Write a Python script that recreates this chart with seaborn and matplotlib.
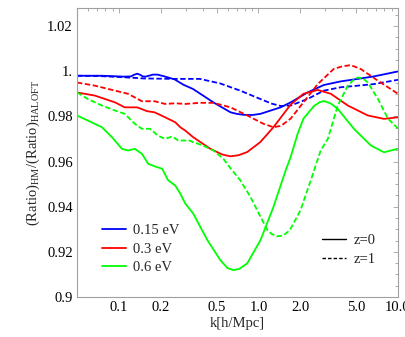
import matplotlib
matplotlib.use("Agg")
import matplotlib.pyplot as plt
import matplotlib.ticker as mticker
from matplotlib.lines import Line2D
import seaborn as sns

# 0.15 eV
k_015_z0 = [0.05, 0.075, 0.1, 0.109, 0.122, 0.128, 0.135, 0.142, 0.148, 0.155, 0.162, 0.175, 0.188, 0.2, 0.212, 0.25, 0.29, 0.34, 0.475, 0.63, 0.70, 0.78, 0.9, 1.03, 1.44, 1.70, 2.25, 2.94, 3.89, 5.15, 6.72, 10.0]
r_015_z0 = [0.998, 0.998, 0.9977, 0.9976, 0.9977, 0.9984, 0.9989, 0.9984, 0.9977, 0.9976, 0.9979, 0.9985, 0.9985, 0.9981, 0.9977, 0.9964, 0.994, 0.9921, 0.9862, 0.9818, 0.9811, 0.9807, 0.9806, 0.9811, 0.984, 0.9862, 0.9906, 0.9939, 0.9955, 0.9966, 0.9977, 0.9999]
k_015_z1 = [0.05, 0.075, 0.11, 0.15, 0.25, 0.38, 0.53, 0.74, 1.03, 1.25, 1.44, 1.70, 2.25, 2.94, 3.89, 5.15, 6.72, 10.0]
r_015_z1 = [0.998, 0.9978, 0.9973, 0.9968, 0.9966, 0.9966, 0.9946, 0.9914, 0.9877, 0.9856, 0.9846, 0.9848, 0.9877, 0.9914, 0.9929, 0.9936, 0.9943, 0.9962]

# 0.3 eV
k_03_z0 = [0.05, 0.0672, 0.0936, 0.11, 0.135, 0.159, 0.18, 0.214, 0.253, 0.275, 0.2985, 0.34, 0.45, 0.55, 0.63, 0.72, 0.83, 1.03, 1.28, 1.70, 2.1, 2.66, 3.3, 4.37, 6.08, 7.93, 10.0]
r_03_z0 = [0.9906, 0.9892, 0.9862, 0.984, 0.984, 0.9823, 0.9818, 0.9796, 0.9774, 0.9752, 0.9737, 0.9708, 0.9657, 0.9631, 0.9623, 0.9628, 0.9642, 0.9686, 0.9752, 0.9852, 0.990, 0.9917, 0.990, 0.9848, 0.9804, 0.9789, 0.9796]
k_03_z1 = [0.05, 0.0672, 0.0936, 0.116, 0.146, 0.18, 0.214, 0.253, 0.2985, 0.38, 0.475, 0.63, 0.83, 1.086, 1.28, 1.45, 1.70, 2.1, 2.66, 3.46, 4.0, 4.59, 5.4, 7.18, 10.0]
r_03_z1 = [0.995, 0.9936, 0.9914, 0.990, 0.9867, 0.9867, 0.9855, 0.9858, 0.9855, 0.986, 0.986, 0.984, 0.9804, 0.9767, 0.9752, 0.9758, 0.979, 0.9862, 0.9943, 1.001, 1.0022, 1.0027, 1.001, 0.9958, 0.990]

# 0.6 eV
k_06_z0 = [0.05, 0.06, 0.0754, 0.089, 0.105, 0.116, 0.13, 0.146, 0.162, 0.182, 0.204, 0.225, 0.253, 0.275, 0.2985, 0.34, 0.43, 0.533, 0.60, 0.66, 0.73, 0.83, 1.034, 1.28, 1.564, 1.70, 1.91, 2.1, 2.49, 2.75, 2.94, 3.3, 3.7, 4.83, 6.39, 7.93, 10.0]
r_06_z0 = [0.9804, 0.9781, 0.9752, 0.9708, 0.9656, 0.9649, 0.9656, 0.9634, 0.959, 0.9578, 0.9568, 0.9517, 0.9494, 0.9458, 0.9414, 0.937, 0.9252, 0.9163, 0.9128, 0.9119, 0.9125, 0.9149, 0.9252, 0.9399, 0.956, 0.962, 0.9724, 0.979, 0.9845, 0.9863, 0.9868, 0.9857, 0.9833, 0.9745, 0.9671, 0.9641, 0.9657]
k_06_z1 = [0.05, 0.0598, 0.0754, 0.0936, 0.11, 0.13, 0.146, 0.167, 0.19, 0.214, 0.24, 0.266, 0.30, 0.31, 0.34, 0.40, 0.475, 0.56, 0.63, 0.74, 0.876, 1.034, 1.16, 1.25, 1.37, 1.5, 1.62, 1.70, 2.0, 2.37, 2.79, 3.14, 3.70, 4.37, 4.8, 5.15, 5.6, 6.08, 7.18, 8.47, 10.0]
r_06_z1 = [0.9906, 0.9877, 0.9848, 0.9826, 0.9811, 0.9767, 0.9745, 0.9745, 0.9715, 0.970, 0.9711, 0.9693, 0.9693, 0.9696, 0.9686, 0.9671, 0.9649, 0.9612, 0.957, 0.9517, 0.9443, 0.9355, 0.9296, 0.9278, 0.9269, 0.9272, 0.9288, 0.9303, 0.9384, 0.9517, 0.9649, 0.970, 0.9848, 0.9936, 0.9962, 0.9972, 0.9968, 0.995, 0.9877, 0.979, 0.9746]

mass_labels = ["0.15 eV", "0.3 eV", "0.6 eV"]
mass_colors = ["#0000ff", "#ff0000", "#00ff00"]
z_labels = ["z=0", "z=1"]

y_ticks = [0.9, 0.92, 0.94, 0.96, 0.98, 1.0, 1.02]
y_ticklabels = ["0.9", "0.92", "0.94", "0.96", "0.98", "1.", "1.02"]
x_ticks = [0.1, 0.2, 0.5, 1.0, 2.0, 5.0, 10.0]
x_ticklabels = ["0.1", "0.2", "0.5", "1.0", "2.0", "5.0", "10.0"]

sns.set_style("white")
plt.rcParams["font.family"] = ["Liberation Serif", "DejaVu Serif"]
plt.rcParams["mathtext.fontset"] = "custom"
plt.rcParams["mathtext.rm"] = "Liberation Serif"

dash = (3, 1.4)
curves = [
    (k_015_z0, r_015_z0, 0, False), (k_015_z1, r_015_z1, 0, True),
    (k_03_z0, r_03_z0, 1, False), (k_03_z1, r_03_z1, 1, True),
    (k_06_z0, r_06_z0, 2, False), (k_06_z1, r_06_z1, 2, True),
]

fig = plt.figure(figsize=(4.05, 3.37), dpi=100)
ax = fig.add_axes([77/405, 1-297/337, 321/405, 289/337])

for k, r, m, dashed in curves:
    sns.lineplot(x=k, y=r, color=mass_colors[m], lw=1.3, ax=ax)
    if dashed:
        ax.lines[-1].set_dashes(dash)

ax.set_xscale("log")
ax.set_xlim(0.05, 10.0)
ax.set_ylim(0.9, 1.028)
ax.xaxis.set_major_locator(mticker.FixedLocator(x_ticks))
ax.xaxis.set_major_formatter(mticker.FixedFormatter(x_ticklabels))
ax.xaxis.set_minor_locator(mticker.LogLocator(base=10, subs=range(2, 10), numticks=20))
ax.xaxis.set_minor_formatter(mticker.NullFormatter())
ax.yaxis.set_major_locator(mticker.FixedLocator(y_ticks))
ax.yaxis.set_major_formatter(mticker.FixedFormatter(y_ticklabels))
ax.yaxis.set_minor_locator(mticker.MultipleLocator(0.005))

for s in ax.spines.values():
    s.set_color("#a0a0a0")
    s.set_linewidth(0.8)
ax.tick_params(which="both", direction="in", top=True, right=True, color="#a0a0a0",
               labelsize=10.5, labelcolor="black", width=0.6)
ax.tick_params(which="major", length=3.5, pad=3)
ax.tick_params(which="minor", length=2)

ax.set_xlabel("k[h/Mpc]", fontsize=10.5, labelpad=2)
ax.set_ylabel(r"(Ratio)$_{\mathrm{HM}}$/(Ratio)$_{\mathrm{HALOFT}}$", fontsize=10.5, labelpad=4)

h1 = [Line2D([], [], color=c, lw=1.3) for c in mass_colors]
leg1 = ax.legend(h1, mass_labels, loc="upper left", bbox_to_anchor=(0.078, 0.252),
                 frameon=False, fontsize=10.5, handlelength=1.65, handletextpad=0.5,
                 labelspacing=0.35, borderpad=0, borderaxespad=0)
ax.add_artist(leg1)
h2 = [Line2D([], [], color="black", lw=1.0), Line2D([], [], color="black", lw=1.0, dashes=(2.5, 1.5))]
ax.legend(h2, z_labels, loc="upper left", bbox_to_anchor=(0.763, 0.22),
          frameon=False, fontsize=10.5, handlelength=1.65, handletextpad=0.5,
          labelspacing=0.45, borderpad=0, borderaxespad=0)

fig.savefig("out.png", dpi=100)
